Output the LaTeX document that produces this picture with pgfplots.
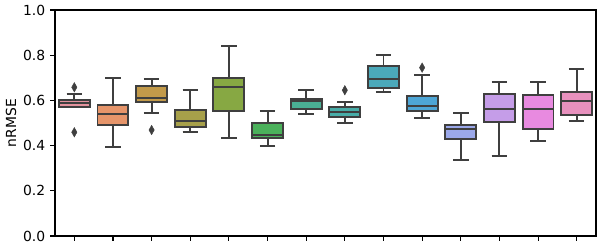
\documentclass[border=0pt]{standalone}
\usepackage{pgfplots}
\pgfplotsset{compat=1.18}
\usepgfplotslibrary{statistics}
\usepackage{fontspec}
\setmainfont{DejaVu Sans}
\definecolor{ln}{HTML}{3F3F3F}
\definecolor{c1}{HTML}{E3929D}
\definecolor{c2}{HTML}{E6956A}
\definecolor{c3}{HTML}{C29A4A}
\definecolor{c4}{HTML}{A7A04A}
\definecolor{c5}{HTML}{87A843}
\definecolor{c6}{HTML}{4BB15B}
\definecolor{c7}{HTML}{4AB095}
\definecolor{c8}{HTML}{48ADA8}
\definecolor{c9}{HTML}{4BA9BA}
\definecolor{c10}{HTML}{4EA6D6}
\definecolor{c11}{HTML}{9BA8EA}
\definecolor{c12}{HTML}{C59DE8}
\definecolor{c13}{HTML}{E88AE0}
\definecolor{c14}{HTML}{E891BE}
\pgfplotsset{
  bx/.style n args={7}{
    boxplot/draw direction=y,
    boxplot prepared={lower whisker=#1, lower quartile=#2, median=#3, upper quartile=#4, upper whisker=#5, draw position=#6, box extend=0.8, whisker extend=0.4},
    fill=#7, draw=ln, line width=1.4pt, solid,
    mark=diamond*, mark size=3.4pt, mark options={fill=ln, draw=ln, line width=0.3pt, xscale=0.75}
  }
}
\begin{document}
\begin{tikzpicture}
\begin{axis}[
  scale only axis,
  width=389.5pt, height=162.7pt,
  xmin=-0.5, xmax=13.5, ymin=0, ymax=1,
  xtick={0,...,13}, xticklabels={},
  ytick={0,0.2,0.4,0.6,0.8,1.0},
  yticklabel style={/pgf/number format/.cd, fixed, fixed zerofill, precision=1, assume math mode=true},
  tick align=outside, xtick pos=left, ytick pos=left,
  major tick length=3.5pt,
  tick style={black, line width=0.8pt},
  axis line style={black, line width=0.8pt},
  ylabel={nRMSE},
  ylabel style={yshift=-2pt},
  tick label style={font=\fontsize{10}{12}\selectfont},
  label style={font=\fontsize{10}{12}\selectfont},
  clip=false,
]
\addplot[bx={0.569}{0.569}{0.587}{0.600}{0.630}{0}{c1}] table[row sep=\\, y index=0]{v\\0.658\\0.459\\};
\addplot[bx={0.395}{0.490}{0.541}{0.580}{0.699}{1}{c2}] coordinates {};
\addplot[bx={0.546}{0.593}{0.611}{0.664}{0.695}{2}{c3}] table[row sep=\\, y index=0]{v\\0.469\\};
\addplot[bx={0.462}{0.482}{0.510}{0.558}{0.646}{3}{c4}] coordinates {};
\addplot[bx={0.435}{0.555}{0.661}{0.699}{0.842}{4}{c5}] coordinates {};
\addplot[bx={0.398}{0.434}{0.445}{0.500}{0.555}{5}{c6}] coordinates {};
\addplot[bx={0.541}{0.562}{0.598}{0.606}{0.646}{6}{c7}] coordinates {};
\addplot[bx={0.500}{0.527}{0.550}{0.572}{0.594}{7}{c8}] table[row sep=\\, y index=0]{v\\0.645\\};
\addplot[bx={0.639}{0.655}{0.695}{0.754}{0.802}{8}{c9}] coordinates {};
\addplot[bx={0.522}{0.555}{0.574}{0.619}{0.714}{9}{c10}] table[row sep=\\, y index=0]{v\\0.745\\};
\addplot[bx={0.335}{0.431}{0.472}{0.491}{0.546}{10}{c11}] coordinates {};
\addplot[bx={0.354}{0.506}{0.562}{0.630}{0.681}{11}{c12}] coordinates {};
\addplot[bx={0.422}{0.475}{0.562}{0.624}{0.681}{12}{c13}] coordinates {};
\addplot[bx={0.510}{0.535}{0.599}{0.639}{0.739}{13}{c14}] coordinates {};
\end{axis}
\path ([xshift=-39.6pt,yshift=-8.6pt]current axis.south west) rectangle ([xshift=4.3pt,yshift=7.2pt]current axis.north east);
\end{tikzpicture}
\end{document}
